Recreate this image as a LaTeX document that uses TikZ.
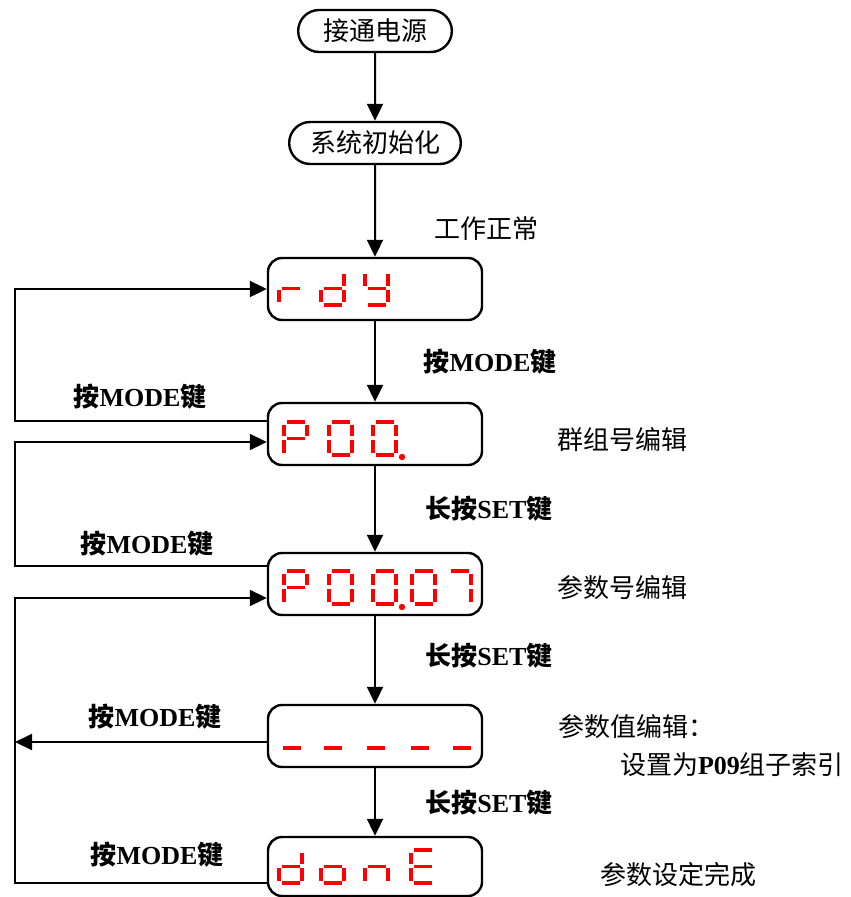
\documentclass[tikz,border=0pt]{standalone}
\usepackage{fontspec}
\setmainfont{Liberation Serif}
\newfontfamily\cjk{Noto Sans CJK SC}
\usetikzlibrary{arrows.meta,shapes.misc}

% 七段数码管的各段 (a 上, b 右上, c 右下, d 下, e 左下, f 左上, g 中)
\newcommand{\sga}{(2.5,0)--(20.5,0)}
\newcommand{\sgb}{(23,2.5)--(23,14)}
\newcommand{\sgc}{(23,18)--(23,30.5)}
\newcommand{\sgd}{(2.5,33)--(20.5,33)}
\newcommand{\sge}{(0,18)--(0,30.5)}
\newcommand{\sgf}{(0,2.5)--(0,14)}
\newcommand{\sgg}{(2.5,16.5)--(20.5,16.5)}
\newcommand{\segdigit}[3]{%
  \begin{scope}[shift={(#1,#2)}]
    \foreach \segname in {#3} {\draw[seg] \csname sg\segname\endcsname;}
  \end{scope}}
\newcommand{\cn}[1]{{\cjk #1}}

\begin{document}
\begin{tikzpicture}[x=0.5pt, y=-0.5pt, >={Triangle[length=8.5pt,width=8pt]},
    pill/.style={rounded rectangle, draw, line width=1.2pt, minimum height=21pt,
      font=\cjk\fontsize{13}{15}\selectfont},
    panel/.style={draw, line width=1.2pt, rounded corners=7pt,
      minimum width=107pt, minimum height=31pt},
    flow/.style={->, line width=1pt},
    keylbl/.style={font=\bfseries\fontsize{13}{15}\selectfont},
    note/.style={font=\cjk\fontsize{13}{15}\selectfont},
    seg/.style={red, line width=1.6pt}]
    \useasboundingbox (0,0) rectangle (850,897);

    % --- 上电与初始化 ---
    \node[pill, minimum width=83.5pt] (power) at (375,31) {接通电源};
    \node[pill, minimum width=92.5pt] (init) at (375,143) {系统初始化};

    % --- 数码管显示框 ---
    \node[panel] (rdy) at (375,289) {};
    \node[panel] (grp) at (375,434) {};
    \node[panel] (par) at (375,584) {};
    \node[panel] (val) at (375,736) {};
    \node[panel, minimum height=29.5pt] (done) at (375,866.5) {};

    % rdy
    \segdigit{279}{272}{e,g}
    \segdigit{321}{272}{b,c,d,e,g}
    \segdigit{365}{272}{b,c,d,f,g}
    % P00.
    \segdigit{284}{422}{a,b,e,f,g}
    \segdigit{329}{422}{a,b,c,d,e,f}
    \segdigit{373}{422}{a,b,c,d,e,f}
    \fill[red] (402,457) circle (1.6pt);
    % P00.07
    \segdigit{284}{571}{a,b,e,f,g}
    \segdigit{329}{571}{a,b,c,d,e,f}
    \segdigit{373}{571}{a,b,c,d,e,f}
    \fill[red] (402,607) circle (1.6pt);
    \segdigit{412}{571}{a,b,c,d,e,f}
    \segdigit{448}{571}{a,b,c}
    % -----
    \foreach \xd in {280,321,364,408,450} {\segdigit{\xd}{715}{d}}
    % donE
    \segdigit{279}{850}{b,c,d,e,g}
    \segdigit{321}{850}{c,d,e,g}
    \segdigit{365}{850}{c,e,g}
    \segdigit{411}{850}{a,d,e,f,g}

    % --- 主流程 ---
    \draw[flow] (power) -- (init);
    \draw[flow] (init) -- (rdy);
    \draw[flow] (rdy) -- (grp);
    \draw[flow] (grp) -- (par);
    \draw[flow] (par) -- (val);
    \draw[flow] (val) -- (done);

    % --- 左侧返回线 ---
    \coordinate (ra) at (15,421);
    \coordinate (rb) at (15,566);
    \coordinate (rb2) at (15,442);
    \coordinate (rc) at (15,883);
    \coordinate (rc2) at (15,598);
    \coordinate (rd) at (15,742);
    \draw[flow] (grp.west |- ra) -- (ra) |- (rdy.west);
    \draw[flow] (par.west |- rb) -- (rb) -- (rb2) -- (grp.west |- rb2);
    \draw[flow] (done.west |- rc) -- (rc) -- (rc2) -- (par.west |- rc2);
    \draw[flow] (val.west |- rd) -- (rd);

    % --- 文字说明 ---
    \node[note] (lbwork) at (486,229) {工作正常};
    \node[keylbl] (lbm0) at (490,362) {\cn{按}MODE\cn{键}};
    \node[note] (lbgrp) at (622,440) {群组号编辑};
    \node[keylbl] (lbs1) at (489,509) {\cn{长按}SET\cn{键}};
    \node[note] (lbpar) at (622,588) {参数号编辑};
    \node[keylbl] (lbs2) at (489,656) {\cn{长按}SET\cn{键}};
    \node[note] (lbval) at (636,727) {参数值编辑：};
    \node[note] (lbval2) at (732,765) {设置为{\rmfamily\bfseries P09}组子索引};
    \node[keylbl] (lbs3) at (489,803) {\cn{长按}SET\cn{键}};
    \node[note] (lbdone) at (678,875) {参数设定完成};
    \node[keylbl] (lbm1) at (140,397) {\cn{按}MODE\cn{键}};
    \node[keylbl] (lbm2) at (147,544) {\cn{按}MODE\cn{键}};
    \node[keylbl] (lbm3) at (155,717) {\cn{按}MODE\cn{键}};
    \node[keylbl] (lbm4) at (157,855) {\cn{按}MODE\cn{键}};
\end{tikzpicture}
\end{document}
